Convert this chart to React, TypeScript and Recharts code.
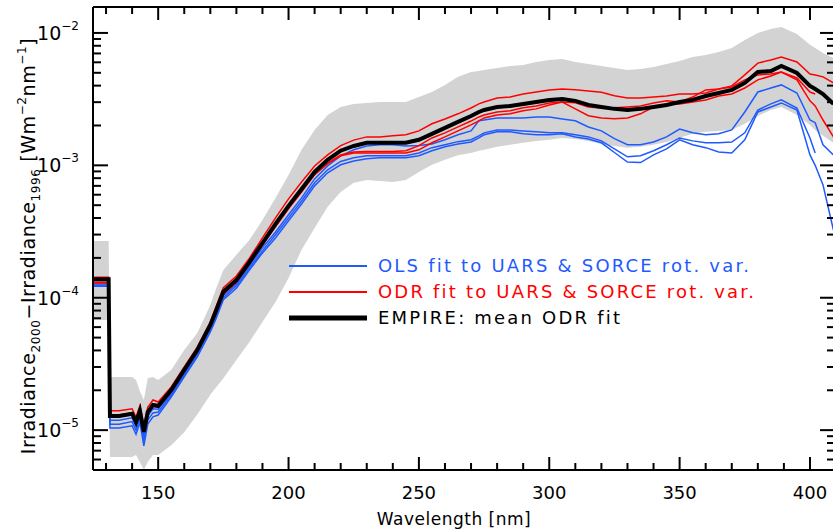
import React from 'react';
import { ComposedChart, Area, Line, XAxis, YAxis, ReferenceLine } from 'recharts';

// Wavelength grid [nm] and values [W m^-2 nm^-1]
const wavelength = [125, 131, 131.5, 135, 140, 141.5, 143, 144.5, 146, 148, 150, 155, 160, 165, 170, 172, 175, 180, 185, 190, 195, 200, 205, 210, 215, 220, 225, 230, 235, 240, 245, 250, 255, 260, 265, 270, 273, 275, 280, 285, 290, 295, 300, 305, 310, 315, 320, 325, 330, 335, 340, 345, 350, 355, 360, 365, 370, 375, 380, 385, 389, 395, 400, 402, 405, 409];

const empire = [1.38e-4, 1.38e-4, 1.28e-5, 1.28e-5, 1.33e-5, 1.15e-5, 1.40e-5, 9.7e-6, 1.37e-5, 1.55e-5, 1.52e-5, 2.01e-5, 2.85e-5, 4.03e-5, 6.23e-5, 7.81e-5, 1.11e-4, 1.36e-4, 1.86e-4, 2.59e-4, 3.61e-4, 4.94e-4, 6.63e-4, 8.92e-4, 1.10e-3, 1.29e-3, 1.40e-3, 1.48e-3, 1.48e-3, 1.48e-3, 1.48e-3, 1.56e-3, 1.73e-3, 1.92e-3, 2.13e-3, 2.36e-3, 2.53e-3, 2.62e-3, 2.76e-3, 2.81e-3, 2.91e-3, 3.01e-3, 3.12e-3, 3.17e-3, 3.07e-3, 2.86e-3, 2.76e-3, 2.67e-3, 2.62e-3, 2.67e-3, 2.76e-3, 2.86e-3, 3.01e-3, 3.12e-3, 3.34e-3, 3.52e-3, 3.71e-3, 4.19e-3, 5.07e-3, 5.16e-3, 5.63e-3, 4.98e-3, 3.98e-3, 3.77e-3, 3.46e-3, 2.91e-3];

const odr1 = [1.43e-4, 1.43e-4, 1.40e-5, 1.40e-5, 1.45e-5, 1.25e-5, 1.53e-5, 1.08e-5, 1.49e-5, 1.69e-5, 1.63e-5, 2.12e-5, 3.00e-5, 4.24e-5, 6.56e-5, 8.37e-5, 1.19e-4, 1.46e-4, 1.99e-4, 2.83e-4, 4.01e-4, 5.58e-4, 7.49e-4, 9.90e-4, 1.20e-3, 1.41e-3, 1.55e-3, 1.64e-3, 1.64e-3, 1.67e-3, 1.70e-3, 1.82e-3, 2.06e-3, 2.24e-3, 2.45e-3, 2.71e-3, 2.91e-3, 3.01e-3, 3.23e-3, 3.28e-3, 3.46e-3, 3.58e-3, 3.71e-3, 3.77e-3, 3.72e-3, 3.64e-3, 3.56e-3, 3.35e-3, 3.23e-3, 3.23e-3, 3.28e-3, 3.34e-3, 3.46e-3, 3.46e-3, 3.52e-3, 3.77e-3, 3.98e-3, 4.82e-3, 5.92e-3, 6.25e-3, 6.59e-3, 6.04e-3, 4.90e-3, 4.82e-3, 4.66e-3, 4.19e-3];

const odr2 = [1.31e-4, 1.31e-4, 1.30e-5, 1.30e-5, 1.35e-5, 1.17e-5, 1.42e-5, 1.00e-5, 1.39e-5, 1.58e-5, 1.55e-5, 2.01e-5, 2.85e-5, 4.03e-5, 6.23e-5, 7.68e-5, 1.09e-4, 1.34e-4, 1.83e-4, 2.55e-4, 3.49e-4, 4.77e-4, 6.40e-4, 8.62e-4, 1.04e-3, 1.20e-3, 1.26e-3, 1.27e-3, 1.27e-3, 1.27e-3, 1.29e-3, 1.41e-3, 1.61e-3, 1.76e-3, 1.95e-3, 2.16e-3, 2.32e-3, 2.40e-3, 2.53e-3, 2.58e-3, 2.72e-3, 2.81e-3, 2.96e-3, 3.01e-3, 2.97e-3, 2.76e-3, 2.71e-3, 2.72e-3, 2.76e-3, 2.81e-3, 2.96e-3, 3.07e-3, 3.01e-3, 3.28e-3, 3.71e-3, 3.77e-3, 3.91e-3, 4.42e-3, 4.82e-3, 4.90e-3, 5.07e-3, 4.57e-3, 3.58e-3, 3.46e-3, null, null];

const odr3 = [1.29e-4, 1.29e-4, 1.26e-5, 1.26e-5, 1.31e-5, 1.13e-5, 1.38e-5, 9.7e-6, 1.35e-5, 1.52e-5, 1.49e-5, 1.98e-5, 2.80e-5, 3.96e-5, 6.12e-5, 7.54e-5, 1.07e-4, 1.31e-4, 1.80e-4, 2.50e-4, 3.43e-4, 4.69e-4, 6.29e-4, 8.47e-4, 1.03e-3, 1.18e-3, 1.24e-3, 1.24e-3, 1.24e-3, 1.24e-3, 1.24e-3, 1.31e-3, 1.48e-3, 1.64e-3, 1.82e-3, 2.02e-3, 2.17e-3, 2.28e-3, 2.40e-3, 2.45e-3, 2.58e-3, 2.67e-3, 2.86e-3, 3.01e-3, 2.67e-3, 2.37e-3, 2.28e-3, 2.25e-3, 2.28e-3, 2.45e-3, 2.76e-3, 2.91e-3, 2.91e-3, 3.01e-3, 3.12e-3, 3.34e-3, 3.46e-3, 3.84e-3, 4.42e-3, 4.73e-3, 5.07e-3, 4.42e-3, 3.07e-3, 2.81e-3, 2.20e-3, 1.64e-3];

const ols1 = [1.27e-4, 1.27e-4, 1.19e-5, 1.19e-5, 1.24e-5, 1.07e-5, 1.31e-5, 9.0e-6, 1.28e-5, 1.45e-5, 1.44e-5, 1.91e-5, 2.70e-5, 3.82e-5, 5.91e-5, 7.29e-5, 1.04e-4, 1.27e-4, 1.74e-4, 2.38e-4, 3.14e-4, 4.23e-4, 5.68e-4, 7.90e-4, 9.91e-4, 1.18e-3, 1.31e-3, 1.40e-3, 1.43e-3, 1.43e-3, 1.40e-3, 1.41e-3, 1.45e-3, 1.56e-3, 1.70e-3, 1.82e-3, 2.17e-3, 2.20e-3, 2.28e-3, 2.28e-3, 2.28e-3, 2.32e-3, 2.32e-3, 2.24e-3, 2.17e-3, 1.95e-3, 1.82e-3, 1.59e-3, 1.43e-3, 1.43e-3, 1.50e-3, 1.64e-3, 1.88e-3, 1.76e-3, 1.70e-3, 1.73e-3, 1.85e-3, 2.53e-3, 3.58e-3, 3.84e-3, 4.05e-3, 3.52e-3, 2.20e-3, 2.10e-3, 1.43e-3, 1.20e-3];

const ols2 = [1.24e-4, 1.24e-4, 1.11e-5, 1.11e-5, 1.16e-5, 1.00e-5, 1.22e-5, 8.3e-6, 1.19e-5, 1.35e-5, 1.37e-5, 1.84e-5, 2.61e-5, 3.70e-5, 5.71e-5, 7.04e-5, 1.00e-4, 1.23e-4, 1.68e-4, 2.26e-4, 2.99e-4, 4.01e-4, 5.38e-4, 7.38e-4, 9.25e-4, 1.07e-3, 1.14e-3, 1.18e-3, 1.18e-3, 1.18e-3, 1.18e-3, 1.24e-3, 1.36e-3, 1.43e-3, 1.51e-3, 1.56e-3, 1.67e-3, 1.76e-3, 1.85e-3, 1.85e-3, 1.82e-3, 1.79e-3, 1.76e-3, 1.76e-3, 1.70e-3, 1.64e-3, 1.53e-3, 1.33e-3, 1.16e-3, 1.18e-3, 1.29e-3, 1.43e-3, 1.61e-3, 1.53e-3, 1.48e-3, 1.48e-3, 1.50e-3, 1.76e-3, 2.62e-3, 2.91e-3, 3.12e-3, 2.71e-3, 1.61e-3, 1.24e-3, null, null];

const ols3 = [1.22e-4, 1.22e-4, 1.04e-5, 1.04e-5, 1.08e-5, 9.3e-6, 1.14e-5, 7.6e-6, 1.11e-5, 1.26e-5, 1.30e-5, 1.78e-5, 2.53e-5, 3.57e-5, 5.52e-5, 6.80e-5, 9.67e-5, 1.18e-4, 1.62e-4, 2.18e-4, 2.83e-4, 3.81e-4, 5.11e-4, 7.00e-4, 8.78e-4, 1.01e-3, 1.08e-3, 1.12e-3, 1.14e-3, 1.14e-3, 1.14e-3, 1.18e-3, 1.29e-3, 1.38e-3, 1.45e-3, 1.50e-3, 1.61e-3, 1.70e-3, 1.79e-3, 1.79e-3, 1.73e-3, 1.70e-3, 1.70e-3, 1.73e-3, 1.64e-3, 1.58e-3, 1.48e-3, 1.25e-3, 1.06e-3, 1.05e-3, 1.20e-3, 1.33e-3, 1.56e-3, 1.43e-3, 1.36e-3, 1.26e-3, 1.24e-3, 1.56e-3, 2.53e-3, 2.76e-3, 2.96e-3, 2.62e-3, 1.20e-3, 1.00e-3, 7.12e-4, 3.25e-4];

// grey uncertainty range
const bandLow = [6.80e-5, 6.80e-5, 6.28e-6, 6.28e-6, 6.28e-6, 6.5e-6, 5.75e-6, 5.0e-6, 5.75e-6, 6.5e-6, 6.5e-6, 7.7e-6, 9.66e-6, 1.31e-5, 1.85e-5, 2.08e-5, 2.47e-5, 3.39e-5, 4.64e-5, 6.57e-5, 9.28e-5, 1.41e-4, 2.30e-4, 3.37e-4, 4.86e-4, 6.30e-4, 7.39e-4, 7.76e-4, 7.63e-4, 7.50e-4, 7.76e-4, 8.92e-4, 1.01e-3, 1.10e-3, 1.19e-3, 1.24e-3, 1.29e-3, 1.31e-3, 1.38e-3, 1.43e-3, 1.48e-3, 1.53e-3, 1.56e-3, 1.61e-3, 1.58e-3, 1.53e-3, 1.45e-3, 1.40e-3, 1.36e-3, 1.38e-3, 1.43e-3, 1.50e-3, 1.61e-3, 1.73e-3, 1.79e-3, 1.82e-3, 1.85e-3, 2.06e-3, 2.36e-3, 2.62e-3, 2.76e-3, 2.40e-3, 2.02e-3, 1.85e-3, 1.67e-3, 1.48e-3];

const bandHigh = [2.68e-4, 2.68e-4, 2.52e-5, 2.52e-5, 2.52e-5, 2.39e-5, 1.97e-5, 1.69e-5, 2.47e-5, 2.52e-5, 2.39e-5, 2.85e-5, 4.03e-5, 5.42e-5, 8.82e-5, 1.145e-4, 1.62e-4, 2.11e-4, 2.73e-4, 3.87e-4, 5.67e-4, 8.46e-4, 1.31e-3, 1.85e-3, 2.40e-3, 2.76e-3, 2.91e-3, 2.96e-3, 3.01e-3, 3.01e-3, 3.01e-3, 3.28e-3, 3.58e-3, 4.05e-3, 4.66e-3, 5.07e-3, 5.16e-3, 5.25e-3, 5.43e-3, 5.63e-3, 5.73e-3, 6.04e-3, 6.25e-3, 6.36e-3, 6.04e-3, 5.83e-3, 5.63e-3, 5.43e-3, 5.25e-3, 5.34e-3, 5.53e-3, 5.83e-3, 6.14e-3, 6.59e-3, 6.82e-3, 7.18e-3, 7.70e-3, 8.86e-3, 1.00e-2, 1.07e-2, 1.11e-2, 9.83e-3, 8.13e-3, 7.70e-3, 7.06e-3, 6.47e-3];

// axis ticks
const xTicks = [130, 140, 150, 160, 170, 180, 190, 200, 210, 220, 230, 240, 250, 260, 270, 280, 290, 300, 310, 320, 330, 340, 350, 360, 370, 380, 390, 400];
const yTicks = [5e-6, 6e-6, 7e-6, 8e-6, 9e-6, 1e-5, 2e-5, 3e-5, 4e-5, 5e-5, 6e-5, 7e-5, 8e-5, 9e-5, 1e-4, 2e-4, 3e-4, 4e-4, 5e-4, 6e-4, 7e-4, 8e-4, 9e-4, 1e-3, 2e-3, 3e-3, 4e-3, 5e-3, 6e-3, 7e-3, 8e-3, 9e-3, 1e-2];
const yDecades = [1e-5, 1e-4, 1e-3, 1e-2];

const BLUE = '#1f5aff';
const RED = '#ff0000';
const FONT = 'DejaVu Sans, sans-serif';
const X_DOMAIN = [125, 409.6];
const Y_DOMAIN = [5e-6, 1.57e-2];

// plot box in px: chart 837 x 531, margin top 7 / right 2, y axis 93 wide, x axis 61 high
const PLOT = { left: 93, top: 7, right: 835, bottom: 470 };
const PX_PER_NM = (PLOT.right - PLOT.left) / (X_DOMAIN[1] - X_DOMAIN[0]);
const PX_PER_DECADE = (PLOT.bottom - PLOT.top) / Math.log10(Y_DOMAIN[1] / Y_DOMAIN[0]);
const tickX = (v: number) => PLOT.left + (v - X_DOMAIN[0]) * PX_PER_NM;
const tickY = (v: number) => PLOT.bottom - Math.log10(v / Y_DOMAIN[0]) * PX_PER_DECADE;

const chartData = wavelength.map((w, i) => ({
  w,
  empire: empire[i],
  odr1: odr1[i],
  odr2: odr2[i],
  odr3: odr3[i],
  ols1: ols1[i],
  ols2: ols2[i],
  ols3: ols3[i],
  band: [bandLow[i], bandHigh[i]],
}));

const isMajorX = (v: number) => v % 50 === 0;
const isDecade = (v: number) => yDecades.some(d => Math.abs(d - v) / d < 1e-6);

const BottomTick = ({ x, y, payload }: any) => {
  if (!isMajorX(payload.value)) return <g />;
  return (
    <text x={x} y={y + 29} textAnchor="middle" fontSize={18} fontFamily={FONT} fill="#000">
      {payload.value}
    </text>
  );
};

const LeftTick = ({ x, y, payload }: any) => {
  const v = payload.value;
  if (!isDecade(v)) return <g />;
  const exp = Math.round(Math.log10(v));
  return (
    <text x={x - 14} y={y + 7} textAnchor="end" fontSize={19} fontFamily={FONT} fill="#000">
      10
      <tspan dy={-10} fontSize={12}>{'\u2212' + -exp}</tspan>
    </text>
  );
};

const legendItems = [
  { label: 'OLS fit to UARS & SORCE rot. var.', color: BLUE, width: 2 },
  { label: 'ODR fit to UARS & SORCE rot. var.', color: RED, width: 2 },
  { label: 'EMPIRE: mean ODR fit', color: '#000', width: 5 },
];

// inward frame ticks, legend and axis titles sit on a plain svg above the chart
const Overlay = () => (
  <svg width={833} height={531} style={{ position: 'absolute', left: 0, top: 0, pointerEvents: 'none' }}>
    <g stroke="#000" strokeWidth={2}>
      {xTicks.map(v => {
        const x = tickX(v);
        const len = isMajorX(v) ? 13 : 7;
        return (
          <g key={`x${v}`}>
            <line x1={x} x2={x} y1={PLOT.bottom} y2={PLOT.bottom - len} />
            <line x1={x} x2={x} y1={PLOT.top} y2={PLOT.top + len} />
          </g>
        );
      })}
      {yTicks.map(v => {
        const y = tickY(v);
        const len = isDecade(v) ? 15 : 8;
        return (
          <g key={`y${v}`}>
            <line x1={PLOT.left} x2={PLOT.left + len} y1={y} y2={y} />
            <line x1={PLOT.right} x2={PLOT.right - len} y1={y} y2={y} />
          </g>
        );
      })}
    </g>
    {legendItems.map((item, i) => (
      <g key={item.label}>
        <line x1={289} x2={367} y1={266 + i * 26} y2={266 + i * 26} stroke={item.color} strokeWidth={item.width} />
        <text x={378} y={272 + i * 26} fontSize={18} fontFamily={FONT} fill={item.color} letterSpacing={2.2}>
          {item.label}
        </text>
      </g>
    ))}
    <text x={454} y={525} textAnchor="middle" fontSize={17} fontFamily={FONT} fill="#000" letterSpacing={0.5}>
      Wavelength [nm]
    </text>
    <text
      transform="translate(35, 246) rotate(-90)"
      textAnchor="middle"
      fontSize={19}
      fontFamily={FONT}
      fill="#000"
      letterSpacing={0.6}
    >
      Irradiance
      <tspan fontSize={12} dy={5}>2000</tspan>
      <tspan dy={-5}>{'\u2212Irradiance'}</tspan>
      <tspan fontSize={12} dy={5}>1996</tspan>
      <tspan dy={-5}>{' [Wm'}</tspan>
      <tspan fontSize={12} dy={-9}>{'\u22122'}</tspan>
      <tspan dy={9}>nm</tspan>
      <tspan fontSize={12} dy={-9}>{'\u22121'}</tspan>
      <tspan dy={9}>]</tspan>
    </text>
  </svg>
);

const axisLine = { stroke: '#000', strokeWidth: 2 };

const App: React.FC = () => {
  return (
    <div style={{ position: 'absolute', left: 0, top: 0, width: 833, height: 531, overflow: 'hidden', background: '#fff' }}>
      <ComposedChart width={837} height={531} data={chartData} margin={{ top: 7, right: 2, bottom: 0, left: 0 }}>
        <XAxis
          dataKey="w"
          type="number"
          domain={X_DOMAIN}
          allowDataOverflow
          ticks={xTicks}
          interval={0}
          tickSize={0}
          tickMargin={0}
          height={61}
          axisLine={axisLine}
          tickLine={false}
          tick={(p: any) => <BottomTick {...p} />}
        />
        <YAxis
          type="number"
          scale="log"
          domain={Y_DOMAIN}
          allowDataOverflow
          ticks={yTicks}
          interval={0}
          tickSize={0}
          tickMargin={0}
          width={93}
          axisLine={axisLine}
          tickLine={false}
          tick={(p: any) => <LeftTick {...p} />}
        />
        <Area dataKey="band" stroke="none" fill="#d3d3d3" fillOpacity={1} isAnimationActive={false} />
        <Line dataKey="ols1" stroke={BLUE} strokeWidth={1.5} dot={false} isAnimationActive={false} />
        <Line dataKey="ols2" stroke={BLUE} strokeWidth={1.5} dot={false} isAnimationActive={false} />
        <Line dataKey="ols3" stroke={BLUE} strokeWidth={1.5} dot={false} isAnimationActive={false} />
        <Line dataKey="odr1" stroke={RED} strokeWidth={1.5} dot={false} isAnimationActive={false} />
        <Line dataKey="odr2" stroke={RED} strokeWidth={1.5} dot={false} isAnimationActive={false} />
        <Line dataKey="odr3" stroke={RED} strokeWidth={1.5} dot={false} isAnimationActive={false} />
        <Line dataKey="empire" stroke="#000" strokeWidth={4} dot={false} isAnimationActive={false} />
        {/* plot frame: top and right edges */}
        <ReferenceLine y={Y_DOMAIN[1]} stroke="#000" strokeWidth={2} ifOverflow="visible" />
        <ReferenceLine x={X_DOMAIN[1]} stroke="#000" strokeWidth={2} ifOverflow="visible" />
      </ComposedChart>
      <Overlay />
    </div>
  );
};

export default App;
